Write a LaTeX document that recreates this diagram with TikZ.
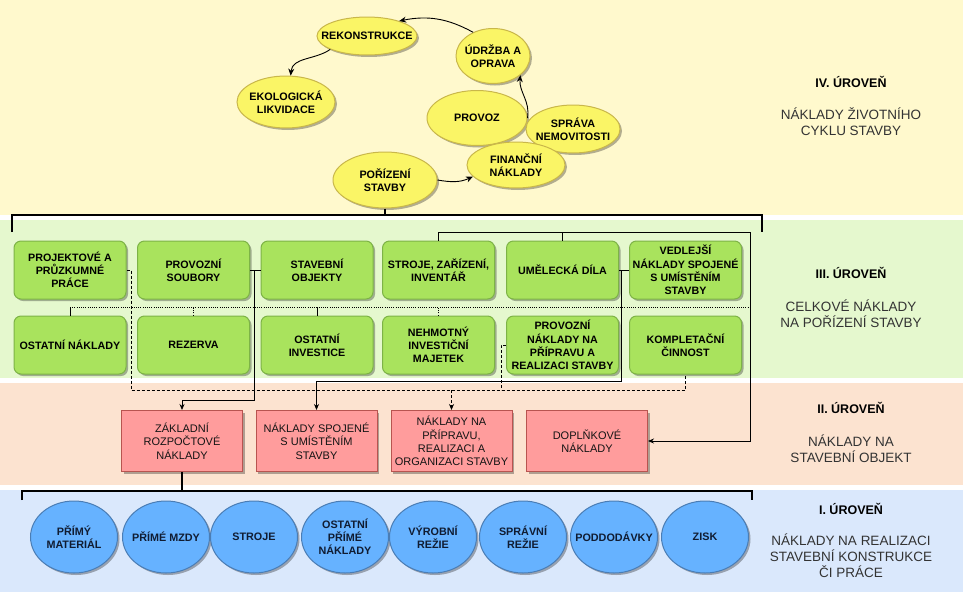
\documentclass[tikz,border=0pt]{standalone}
\usepackage{fontspec}
\setmainfont{Liberation Sans}
\usetikzlibrary{shapes.geometric,arrows.meta,shadows}
\definecolor{bandY}{HTML}{FFF9CD}
\definecolor{bandG}{HTML}{E5F8CE}
\definecolor{bandP}{HTML}{FCE3D0}
\definecolor{bandB}{HTML}{DAE8FC}
\definecolor{ellY}{HTML}{FAF566}
\definecolor{ellYd}{HTML}{C9B74A}
\definecolor{boxG}{HTML}{A9E35D}
\definecolor{boxGd}{HTML}{7DB346}
\definecolor{boxP}{HTML}{FF9C9C}
\definecolor{boxPd}{HTML}{B85450}
\definecolor{ellB}{HTML}{66B2FF}
\definecolor{ellBd}{HTML}{4A7DB5}
\definecolor{lbl}{HTML}{333333}
\tikzset{
  shd/.style={drop shadow={shadow xshift=2pt,shadow yshift=-2pt,opacity=0.3,fill=black}},
  yell/.style={ellipse,fill=ellY,draw=ellYd,line width=1pt,inner sep=0pt,shd},
  etext/.style={align=center,inner sep=0pt,font=\fontsize{10.8}{13.3}\selectfont\bfseries},
  gbox/.style={rectangle,rounded corners=7pt,fill=boxG,draw=boxGd,line width=1pt,
    minimum width=112pt,minimum height=58pt,inner sep=0.5pt,align=center,
    font=\fontsize{10.7}{13.3}\selectfont\bfseries,shd},
  pbox/.style={rectangle,fill=boxP,draw=boxPd,line width=1pt,
    minimum width=121pt,minimum height=61pt,inner sep=1pt,align=center,
    text=black!92,font=\fontsize{11}{13.3}\selectfont,shd},
  bell/.style={ellipse,fill=ellB,draw=ellBd,line width=1pt,inner sep=0pt,
    minimum width=87pt,minimum height=72pt,shd},
  btext/.style={align=center,inner sep=0pt,text={rgb,255:red,16;green,28;blue,50},
    font=\fontsize{10.8}{13}\selectfont\bfseries},
  lvlhead/.style={font=\fontsize{12.5}{15}\selectfont\bfseries,inner sep=0pt},
  lvltext/.style={align=center,text=lbl,inner sep=0pt,font=\fontsize{13.5}{16}\selectfont},
  conn/.style={draw=black,line width=0.8pt},
  dashc/.style={draw=black,line width=0.8pt,dash pattern=on 3pt off 2pt},
  dotc/.style={draw=black,line width=0.8pt,dash pattern=on 1pt off 1.2pt},
  bracket/.style={draw=black,line width=1.6pt},
  tip/.style={-{Stealth[length=6pt,width=5pt]}},
  yarr/.style={draw=black,line width=0.9pt,-{Stealth[length=7pt,width=6pt]}},
}
\begin{document}
\begin{tikzpicture}[x=1pt,y=-1pt]
\useasboundingbox (0,0) rectangle (963,600);
\fill[white] (0,0) rectangle (963,600);
% bands
\fill[bandY] (0,0) rectangle (963,215);
\fill[bandG] (0,220) rectangle (963,378);
\fill[bandP] (0,383) rectangle (963,485);
\fill[bandB] (0,490) rectangle (963,592);

% level labels
\node[lvlhead] at (851,82) {IV. ÚROVEŇ};
\node[lvltext] at (851,122) {NÁKLADY ŽIVOTNÍHO\\CYKLU STAVBY};
\node[lvlhead] at (851,273) {III. ÚROVEŇ};
\node[lvltext] at (851,314) {CELKOVÉ NÁKLADY\\NA POŘÍZENÍ STAVBY};
\node[lvlhead] at (851,408) {II. ÚROVEŇ};
\node[lvltext] at (851,449) {NÁKLADY NA\\STAVEBNÍ OBJEKT};
\node[lvlhead] at (851,509) {I. ÚROVEŇ};
\node[lvltext] at (851,556) {NÁKLADY NA REALIZACI\\STAVEBNÍ KONSTRUKCE\\ČI PRÁCE};

% level IV ellipses
\node[yell,minimum width=100pt,minimum height=38pt] (rek) at (367,36) {};
\node[etext] at (rek) {REKONSTRUKCE};
\node[yell,minimum width=74pt,minimum height=55pt] (ud) at (493,56) {};
\node[etext] at (ud) {ÚDRŽBA A\\OPRAVA};
\node[yell,minimum width=98pt,minimum height=52pt] (eko) at (286,102) {};
\node[etext] at (eko) {EKOLOGICKÁ\\LIKVIDACE};
\node[yell,minimum width=100pt,minimum height=55pt] (prov) at (477,118) {};
\node[etext] at (prov) {PROVOZ};
\node[yell,minimum width=94pt,minimum height=48pt] (spr) at (573,129) {};
\node[etext] at (spr) {SPRÁVA\\NEMOVITOSTI};
\node[yell,minimum width=98pt,minimum height=46pt] (fin) at (516,165) {};
\node[etext] at (fin) {FINANČNÍ\\NÁKLADY};
\node[yell,minimum width=104pt,minimum height=56pt] (por) at (385,180) {};
\node[etext] at (por) {POŘÍZENÍ\\STAVBY};

\draw[yarr] (por.east) to[out=-10,in=205] (fin.195);
\draw[yarr] (prov.east) to[out=80,in=-95] (ud.-35);
\draw[yarr] (ud.130) to[bend right=20] (rek.25);
\draw[yarr] (rek.200) to[out=215,in=85] (eko.80);

% top bracket
\coordinate (tbL1) at (12,232);
\coordinate (tbL) at (12,215);
\coordinate (tbR) at (762,215);
\coordinate (tbR1) at (762,232);
\draw[bracket] (tbL1) -- (tbL) -- (tbR) -- (tbR1);
\draw[bracket] (por.south) -- (por.south |- tbL);

% level III boxes
\node[gbox] (pp) at (70,270) {PROJEKTOVÉ A\\PRŮZKUMNÉ\\PRÁCE};
\node[gbox] (ps) at (193.5,270) {PROVOZNÍ\\SOUBORY};
\node[gbox] (so) at (317,270) {STAVEBNÍ\\OBJEKTY};
\node[gbox] (st) at (438.5,270) {STROJE, ZAŘÍZENÍ,\\INVENTÁŘ};
\node[gbox] (um) at (562.5,270) {UMĚLECKÁ DÍLA};
\node[gbox] (ved) at (685.5,270) {VEDLEJŠÍ\\NÁKLADY SPOJENÉ\\S UMÍSTĚNÍM\\STAVBY};
\node[gbox] (on) at (70,345) {OSTATNÍ NÁKLADY};
\node[gbox] (rz) at (193.5,345) {REZERVA};
\node[gbox] (oi) at (317,345) {OSTATNÍ\\INVESTICE};
\node[gbox] (nm) at (438.5,345) {NEHMOTNÝ\\INVESTIČNÍ\\MAJETEK};
\node[gbox] (pn) at (562.5,345) {PROVOZNÍ\\NÁKLADY NA\\PŘÍPRAVU A\\REALIZACI STAVBY};
\node[gbox] (kc) at (685.5,345) {KOMPLETAČNÍ\\ČINNOST};

% level II boxes
\node[pbox] (zak) at (182,441) {ZÁKLADNÍ\\ROZPOČTOVÉ\\NÁKLADY};
\node[pbox] (nsp) at (316.5,441) {NÁKLADY SPOJENÉ\\S UMÍSTĚNÍM\\STAVBY};
\node[pbox] (npr) at (451.5,441) {NÁKLADY NA\\PŘÍPRAVU,\\REALIZACI A\\ORGANIZACI STAVBY};
\node[pbox] (dop) at (587,441) {DOPLŇKOVÉ\\NÁKLADY};

% connectors III -> II
\coordinate (a1) at (254,400);
\draw[conn] (ps.east) -- (so.west);
\draw[conn,tip] (ps.east -| a1) -- (a1) -| (zak.north);

\coordinate (b1) at (750,232);
\draw[conn] (st.north) |- (b1);
\draw[conn] (um.north) -- (um.north |- b1);
\draw[conn,tip] (b1) |- (dop.east);

\coordinate (c1) at (621,381);
\draw[conn] (um.east) -- (ved.west);
\draw[conn,tip] (um.east -| c1) -- (c1) -| (nsp.north);

\coordinate (d1) at (131,390);
\coordinate (d3) at (501,390);
\draw[dashc] (pp.east) -| (d1) -| (kc.south);
\draw[dashc] (pn.west) -| (d3);
\draw[dashc,tip] (npr.north |- d1) -- (npr.north);

\coordinate (e1) at (70,307);
\coordinate (e2) at (750,307);
\draw[dotc] (e1) -- (e2);
\draw[conn] (on.north) -- (on.north |- e1);
\draw[dotc] (rz.north) -- (rz.north |- e1);
\draw[conn] (oi.north) -- (oi.north |- e1);
\draw[dotc] (nm.north) -- (nm.north |- e1);

% level I ellipses
\node[bell] (b1e) at (74,537) {};   \node[btext] at (b1e) {PŘÍMÝ\\MATERIÁL};
\node[bell] (b2e) at (166,537) {};  \node[btext] at (b2e) {PŘÍMÉ MZDY};
\node[bell] (b3e) at (254,537) {};  \node[btext] at (b3e) {STROJE};
\node[bell] (b4e) at (345,537) {};  \node[btext] at (b4e) {OSTATNÍ\\PŘÍMÉ\\NÁKLADY};
\node[bell] (b5e) at (433,537) {};  \node[btext] at (b5e) {VÝROBNÍ\\REŽIE};
\node[bell] (b6e) at (523,537) {};  \node[btext] at (b6e) {SPRÁVNÍ\\REŽIE};
\node[bell] (b7e) at (614,537) {};  \node[btext] at (b7e) {PODDODÁVKY};
\node[bell] (b8e) at (705,537) {};  \node[btext] at (b8e) {ZISK};

% bottom bracket
\coordinate (bbL1) at (22,500);
\coordinate (bbL) at (22,491);
\coordinate (bbR) at (752,491);
\coordinate (bbR1) at (752,500);
\draw[bracket] (bbL1) -- (bbL) -- (bbR) -- (bbR1);
\draw[bracket] (zak.south) -- (zak.south |- bbL);
\end{tikzpicture}
\end{document}
